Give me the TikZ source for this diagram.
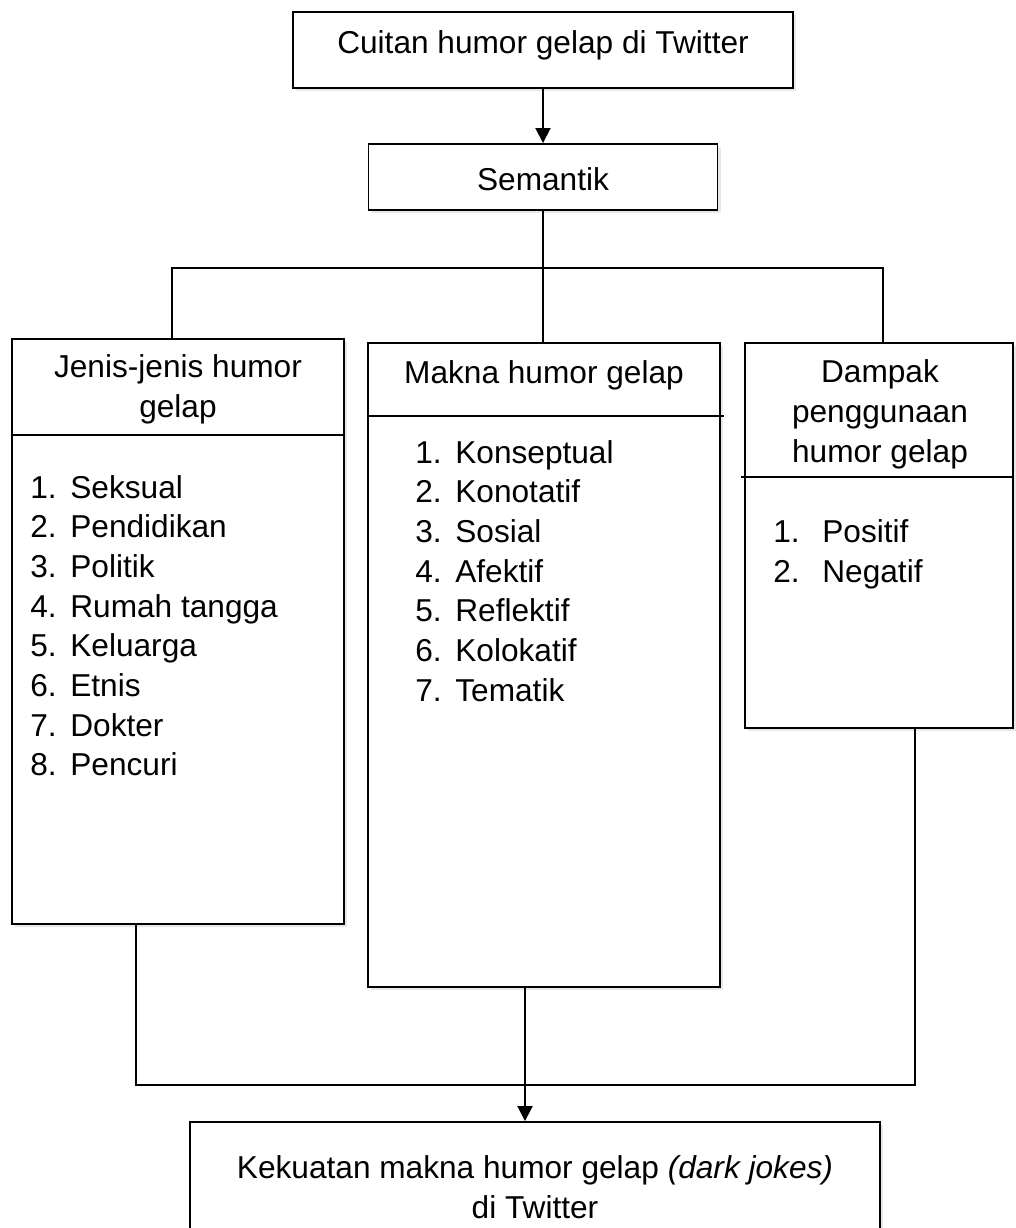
\documentclass[tikz,border=0pt]{standalone}
\usepackage{fontspec}
\setmainfont{Liberation Sans}
\usepackage{tikz}
\usetikzlibrary{arrows.meta,calc,positioning,shadows}

\begin{document}
\begin{tikzpicture}[
  box/.style={draw, line width=1.1pt, fill=white, inner sep=0pt,
    drop shadow={shadow xshift=0.06cm, shadow yshift=-0.06cm, opacity=0.18}},
  txt/.style={inner sep=0pt, font=\fontsize{18}{22.5}\selectfont},
  conn/.style={line width=0.7pt},
  arr/.style={line width=1.1pt, -{Triangle[length=0.3cm,width=0.3cm]}}]
\useasboundingbox (0,0) rectangle (20.32,-24.56);

% boxes
\node[box, minimum width=10cm, minimum height=1.52cm] (top) at (10.86,-1.0) {};
\node[box, minimum width=6.98cm, minimum height=1.32cm] (sem) at (10.86,-3.54) {};
\node[box, minimum width=6.64cm, minimum height=11.7cm] (jenis) at (3.56,-12.63) {};
\node[box, minimum width=7.04cm, minimum height=12.88cm] (makna) at (10.88,-13.3) {};
\node[box, minimum width=5.36cm, minimum height=7.7cm] (dampak) at (17.58,-10.71) {};
\node[box, minimum width=13.8cm, minimum height=2.76cm] (hasil) at (10.7,-23.82) {};

% header lines
\draw[line width=1.1pt] ($(jenis.north west)+(0,-1.94)$) -- ($(jenis.north east)+(0,-1.94)$);
\draw[line width=1.1pt] ($(makna.north west)+(0,-1.48)$) -- ($(makna.north east)+(0.06,-1.48)$);
\draw[line width=1.1pt] ($(dampak.north west)+(-0.06,-2.7)$) -- ($(dampak.north east)+(0,-2.7)$);

% texts
\node[txt, anchor=base] (ttop) at (10.86,-1.06) {Cuitan humor gelap di Twitter};
\node[txt, anchor=base] (tsem) at (10.86,-3.8) {Semantik};
\node[txt, anchor=base, align=center] (tjenis) at (3.56,-8.34) {Jenis-jenis humor\\gelap};
\node[txt, anchor=base] (tmakna) at (10.88,-7.66) {Makna humor gelap};
\node[txt, anchor=base, align=center] (tdampak) at (17.6,-9.24) {Dampak\\penggunaan\\humor gelap};
\node[txt, anchor=base, align=center] (thasil) at (10.7,-24.36) {Kekuatan makna humor gelap \textit{(dark jokes)}\\di Twitter};

% lists
\foreach \t [count=\i] in {Seksual,Pendidikan,Politik,Rumah tangga,Keluarga,Etnis,Dokter,Pencuri}{
  \node[txt, anchor=base west] (jn\i) at (0.6,{-9.96-0.794*(\i-1)}) {\i.};
  \node[txt, anchor=base west] (j\i) at (1.4,{-9.96-0.794*(\i-1)}) {\t};
}
\foreach \t [count=\i] in {Konseptual,Konotatif,Sosial,Afektif,Reflektif,Kolokatif,Tematik}{
  \node[txt, anchor=base west] (mn\i) at (8.3,{-9.26-0.794*(\i-1)}) {\i.};
  \node[txt, anchor=base west] (m\i) at (9.1,{-9.26-0.794*(\i-1)}) {\t};
}
\foreach \t [count=\i] in {Positif,Negatif}{
  \node[txt, anchor=base west] (dn\i) at (15.46,{-10.84-0.8*(\i-1)}) {\i.};
  \node[txt, anchor=base west] (d\i) at (16.44,{-10.84-0.8*(\i-1)}) {\t};
}

% connectors
\coordinate (bl) at (3.44,-5.36);
\coordinate (br) at (17.66,-5.36);
\coordinate (jl) at (2.72,-21.7);
\coordinate (jr) at (18.3,-21.7);
\coordinate (mo) at (10.5,-21.7);
\draw[arr] (top.south) -- (sem.north);
\draw[conn] (sem.south) -- (sem.south |- makna.north);
\draw[conn] (bl |- jenis.north) -- (bl) -- (br) -- (br |- dampak.north);
\draw[conn] (jl |- jenis.south) -- (jl) -- (jr) -- (jr |- dampak.south);
\draw[arr] (mo |- makna.south) -- (mo |- hasil.north);
\end{tikzpicture}
\end{document}
